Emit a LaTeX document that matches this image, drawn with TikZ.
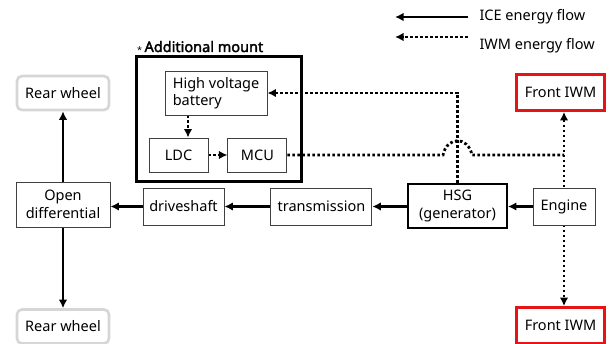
\documentclass[tikz,border=0pt]{standalone}
\usepackage{fontspec}
\setmainfont{Noto Sans}
\newfontfamily\mountfont{Noto Sans}[FakeBold=2.2]
\usetikzlibrary{arrows.meta, positioning, backgrounds}
\definecolor{iwmred}{RGB}{230,20,20}
\definecolor{wheelgray}{RGB}{214,214,214}

\begin{document}
\begin{tikzpicture}[
    x=1pt, y=-1pt,
    font=\fontsize{14.5}{17.5}\selectfont,
    box/.style={rectangle, draw=black!75, line width=0.9pt, fill=white,
                align=center, inner sep=0pt},
    wheel/.style={box, draw=wheelgray, line width=2.6pt, rounded corners=5pt,
                  minimum width=92pt, minimum height=34pt},
    iwm/.style={box, draw=iwmred, line width=2.8pt, minimum width=88pt, minimum height=36pt},
    arr/.style={-{Latex[length=8.5pt,width=8.5pt]}, line width=2.8pt},
    darr/.style={arr, dash pattern=on 2.6pt off 2.4pt},
    dline/.style={line width=2.8pt, dash pattern=on 2.6pt off 2.4pt},
]
\useasboundingbox (0,0) rectangle (609,344);

\node[box, fill=none, draw=black, line width=3pt, minimum width=165pt, minimum height=125pt] (mount) at (218.5,119.5) {};
\node[anchor=base west, inner sep=0pt] (mountlbl) at (137,52) {\raisebox{-2pt}{\small *}\,{\mountfont Additional mount}};

\node[box, minimum width=102pt, minimum height=44pt, align=left] (hvb) at (216,93) {High voltage\\battery};
\node[box, minimum width=59pt, minimum height=34pt] (ldc) at (178.5,155) {LDC};
\node[box, minimum width=59pt, minimum height=34pt, right=19pt of ldc] (mcu) {MCU};

\node[wheel] (rwt) at (63,93) {Rear wheel};
\node[box, minimum width=94pt, minimum height=45pt] (diff) at (63,204.5) {Open\\differential};
\node[wheel] (rwb) at (63,326.5) {Rear wheel};

\node[box, minimum width=81pt, minimum height=37pt] (drv) at (183.5,206.5) {driveshaft};
\node[box, minimum width=101pt, minimum height=37pt, right=46pt of drv] (trn) {transmission};
\node[box, draw=black, line width=1.8pt, minimum width=99pt, minimum height=44pt] (hsg) at (457.5,206) {HSG\\(generator)};
\node[box, minimum width=62pt, minimum height=37pt] (eng) at (564,206.5) {Engine};

\node[iwm] (fiwt) at (560.5,92.5) {Front IWM};
\node[iwm] (fiwb) at (560.5,325.5) {Front IWM};

\node[anchor=west] (icelbl) at (476,17) {ICE energy flow};
\node[anchor=west] (iwmlbl) at (476,46) {IWM energy flow};
\coordinate (ices) at (468,17);
\coordinate (icee) at (395,17);
\coordinate (iwms) at (468,37);
\coordinate (iwme) at (395,37);

\draw[arr] (ices) -- (icee);
\draw[darr] (iwms) -- (iwme);

\begin{scope}[on background layer]
\draw[arr] (eng.west) -- (hsg.east |- eng.west);
\draw[arr] (hsg.west |- trn.east) -- (trn.east);
\draw[arr] (trn) -- (drv);
\draw[arr] (drv.west) -- (drv.west -| diff.east);
\draw[arr] (diff) -- (rwt);
\draw[arr] (diff) -- (rwb);

\draw[darr] (hsg.north) |- (hvb.east);
\draw[darr] ([xshift=9.5pt]ldc.north |- hvb.south) -- ([xshift=9.5pt]ldc.north);
\draw[darr] (ldc) -- (mcu);
\coordinate (hopc) at (hsg.north |- mcu.east);
\coordinate (jn) at (eng |- mcu.east);
\draw[dline] (mcu.east) -- ([xshift=-14.5pt]hopc) .. controls +(4,-19) and +(-4,-19) .. ([xshift=14.5pt]hopc) -- (jn);
\draw[darr, {Latex[length=8.5pt,width=8.5pt]}-{Latex[length=8.5pt,width=8.5pt]}] (eng |- fiwt.south) -- (eng |- fiwb.north);
\end{scope}

\end{tikzpicture}
\end{document}
